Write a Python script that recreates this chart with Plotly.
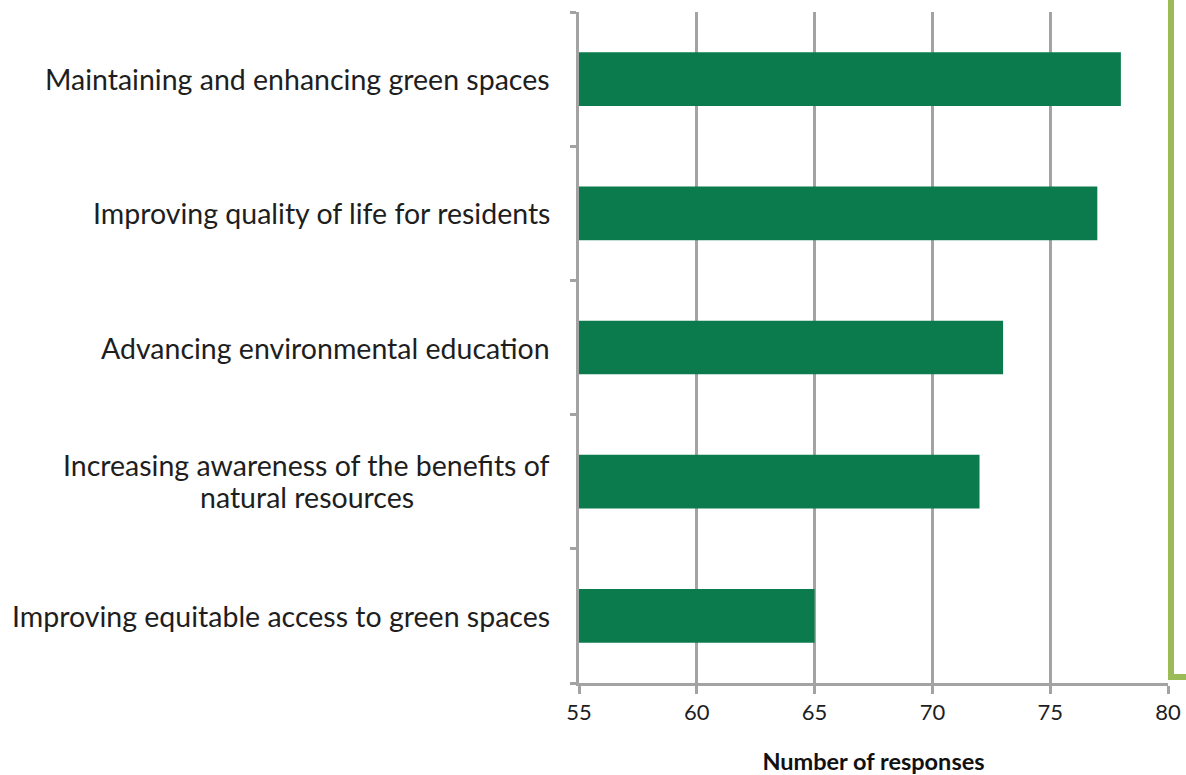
import plotly.graph_objects as go

# Survey results: number of responses per benefit category
categories = [
    "Maintaining and enhancing green spaces",
    "Improving quality of life for residents",
    "Advancing environmental education",
    "Increasing awareness of the benefits of<br>natural resources",
    "Improving equitable access to green spaces",
]
responses = [78, 77, 73, 72, 65]

x_ticks = [55, 60, 65, 70, 75, 80]
axis_start = 55

bar_color = "#0B7B4E"
grid_color = "#A3A3A3"
frame_color = "#9BBB59"
text_color = "#1E1E1E"
font_family = "Lato, 'Open Sans', sans-serif"
label_font = dict(family=font_family, size=28.5, color=text_color)

# plot bottom-to-top so the first category sits at the top
ypos = list(range(len(categories)))[::-1]

fig = go.Figure(
    go.Bar(
        x=[v - axis_start for v in responses],
        y=ypos,
        base=axis_start,
        orientation="h",
        marker=dict(color=bar_color, line=dict(width=0)),
        width=0.4,
        customdata=responses,
        hovertemplate="%{customdata}<extra></extra>",
    )
)

# category labels; two-line labels are set line by line for tighter leading
for yp, label in zip(ypos, categories):
    lines = label.split("<br>")
    if len(lines) == 1:
        fig.add_annotation(
            x=0, xref="paper", y=yp, yref="y", text=label, showarrow=False,
            xanchor="right", yanchor="middle", xshift=-27, font=label_font,
        )
    else:
        fig.add_annotation(
            x=0, xref="paper", y=yp, yref="y", text=lines[0], showarrow=False,
            xanchor="right", yanchor="middle", xshift=-27, yshift=17,
            font=label_font,
        )
        fig.add_annotation(
            x=0, xref="paper", y=yp, yref="y", text=lines[1], showarrow=False,
            xanchor="center", yanchor="middle", xshift=-272, yshift=-15,
            font=label_font,
        )

W, H = 1186, 775
ML, MR, MT, MB = 579, 18, 12, 92
pw, ph = W - ML - MR, H - MT - MB

fig.update_layout(
    width=W, height=H,
    margin=dict(l=ML, r=MR, t=MT, b=MB),
    paper_bgcolor="white", plot_bgcolor="white",
    showlegend=False,
    xaxis=dict(
        range=[55, 80], tickvals=x_ticks, ticktext=[str(t) for t in x_ticks],
        automargin=False,
        showgrid=True, gridcolor=grid_color, gridwidth=2.5,
        zeroline=False,
        showline=True, linecolor=grid_color, linewidth=2.5,
        ticks="outside", ticklen=8, tickwidth=2.5, tickcolor=grid_color,
        tickfont=dict(family=font_family, size=22, color=text_color),
        title=dict(text="<b>Number of responses</b>", standoff=34,
                   font=dict(family=font_family, size=23.5, color="#111111")),
    ),
    yaxis=dict(
        range=[-0.5, 4.5], automargin=False,
        tickvals=[-0.5, 0.5, 1.5, 2.5, 3.5, 4.5], ticktext=[""] * 6,
        showgrid=False, zeroline=False,
        showline=True, linecolor=grid_color, linewidth=2.5,
        ticks="outside", ticklen=6, tickwidth=2.5, tickcolor=grid_color,
    ),
)

# green frame edge running down the right side and turning off to the right
fx = (1171 - ML) / pw
fy = (H - MB - 677) / ph
fig.add_shape(type="path", xref="paper", yref="paper",
              path=f"M {fx},1.05 L {fx},{fy} L {(W - ML) / pw},{fy}",
              line=dict(color=frame_color, width=6))

fig.write_html("out.html")
